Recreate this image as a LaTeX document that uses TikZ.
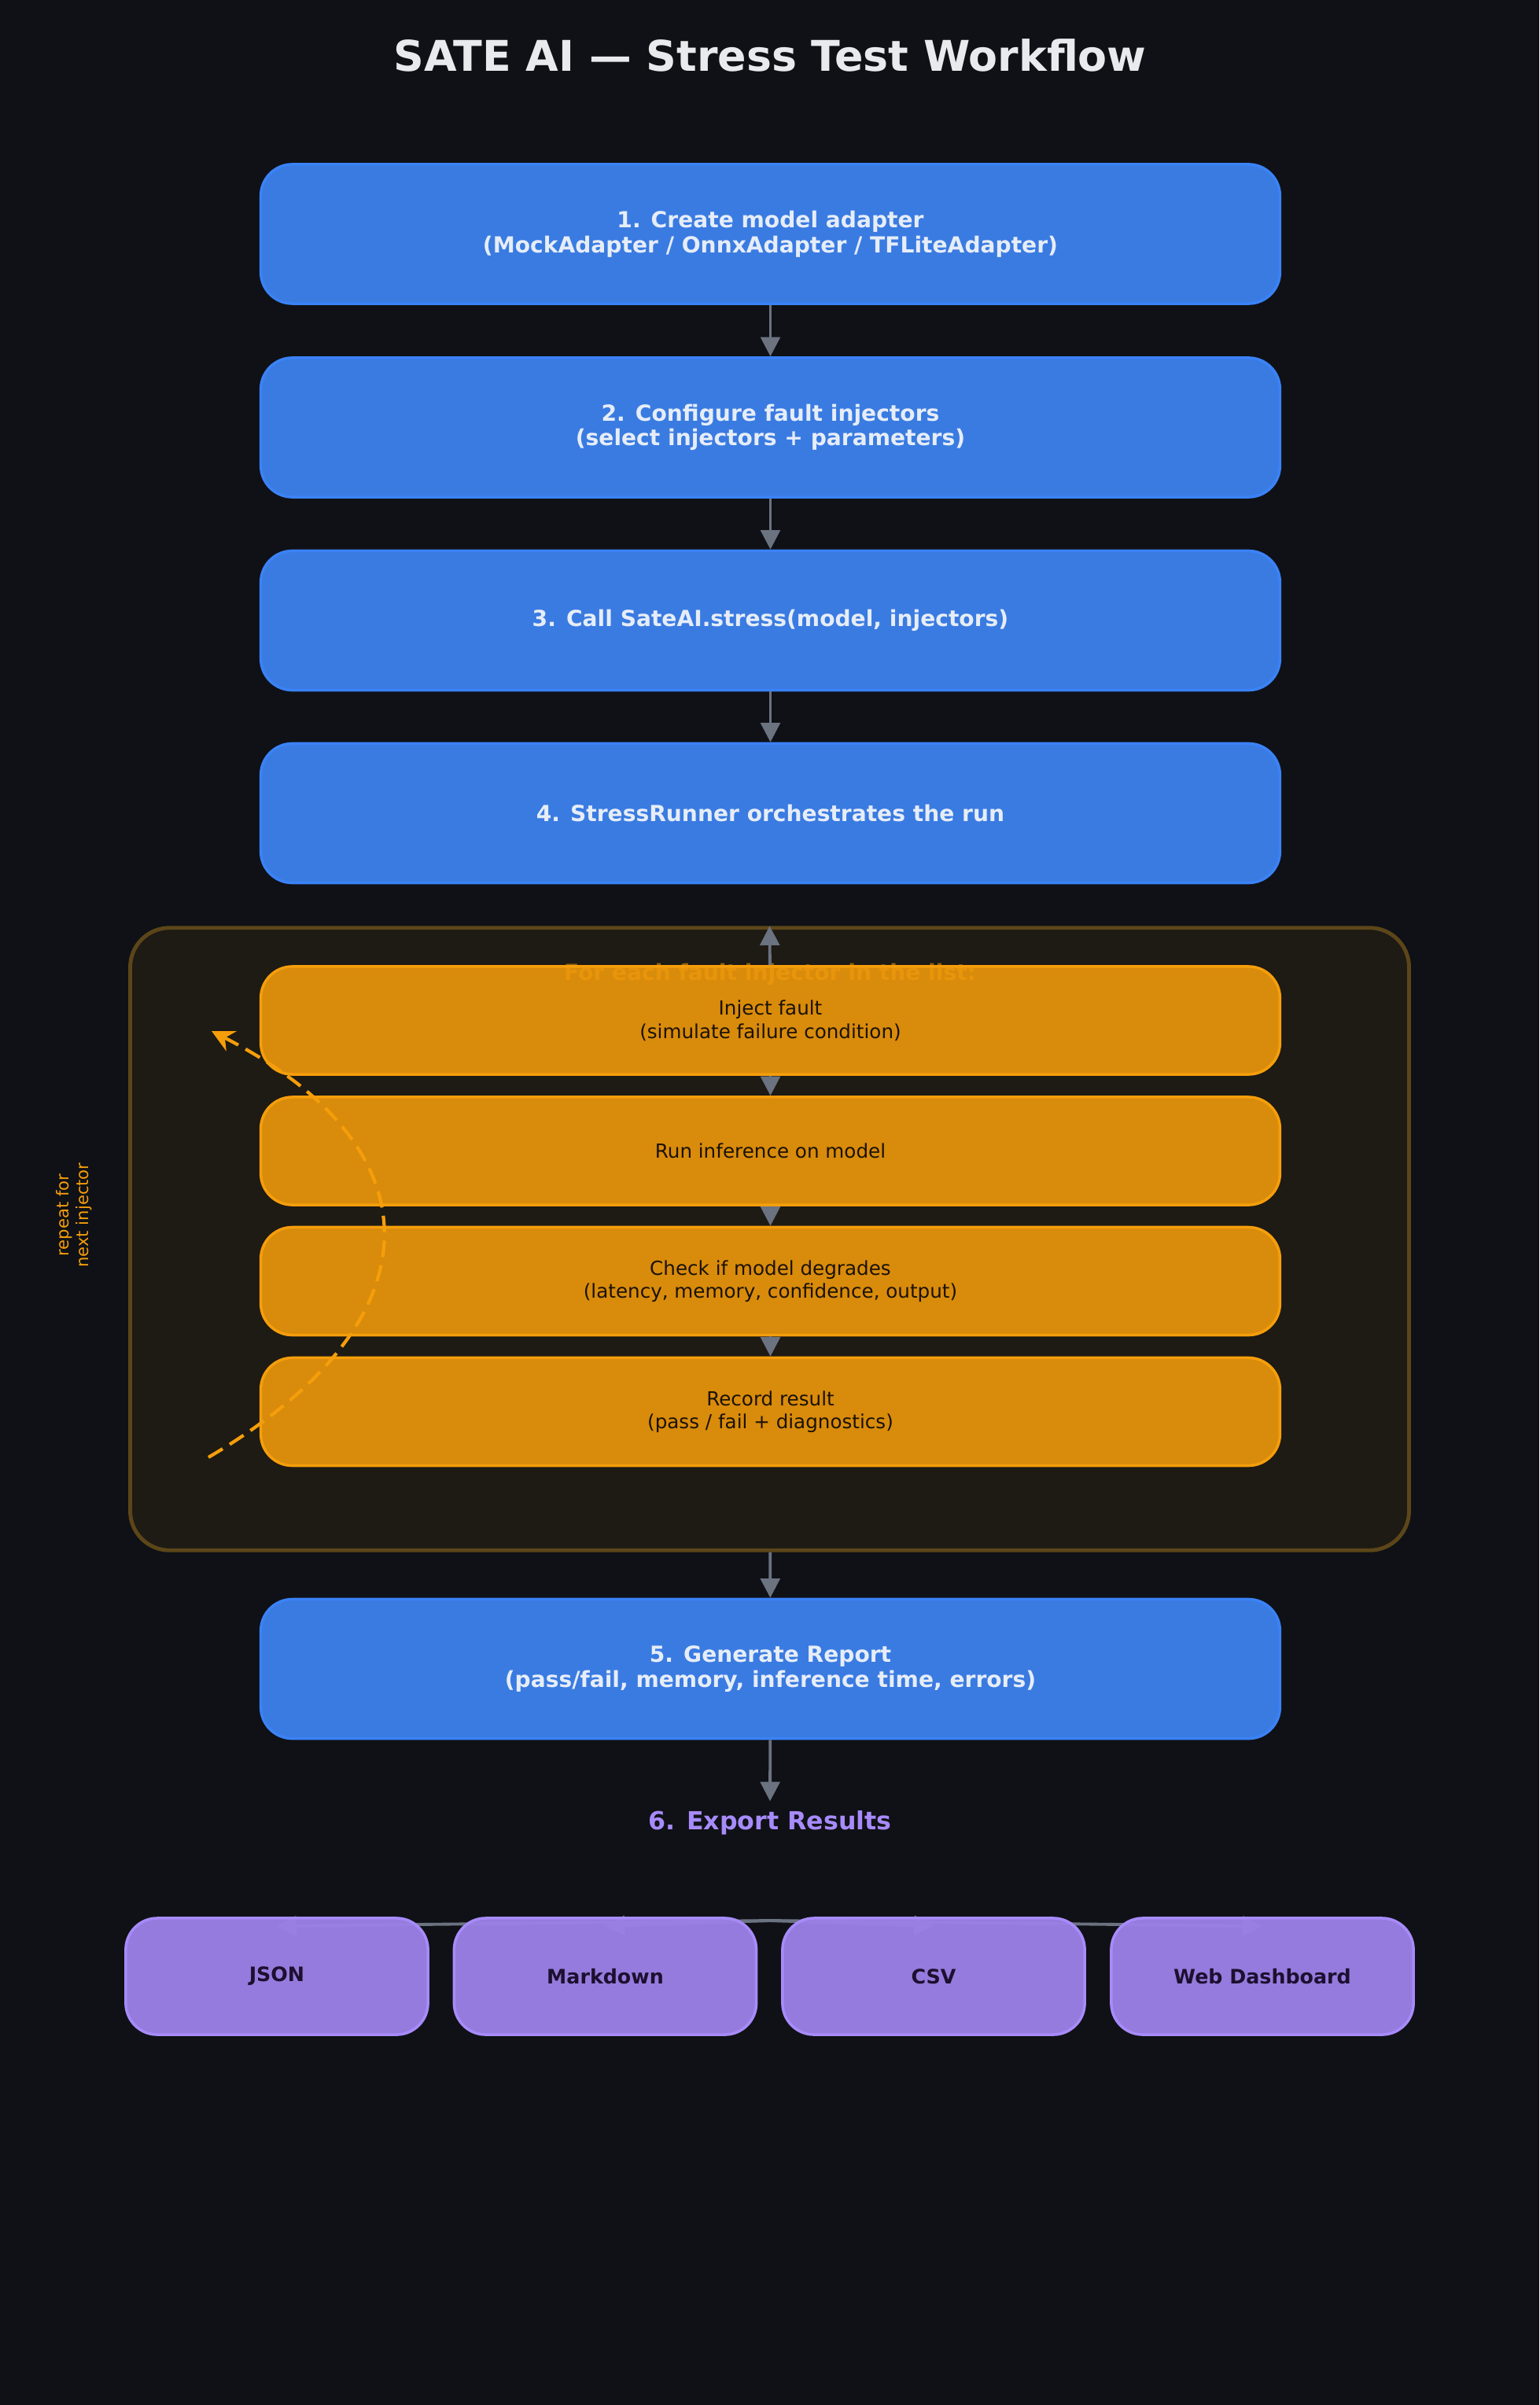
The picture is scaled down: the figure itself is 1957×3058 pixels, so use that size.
\documentclass[tikz,border=0pt]{standalone}
\usepackage{fontspec}
\setmainfont{DejaVu Sans}
\usetikzlibrary{arrows.meta}
\definecolor{bgdark}{HTML}{0F1116}
\definecolor{stepblue}{HTML}{3A7BE2}
\definecolor{stepblueline}{HTML}{3B82F6}
\definecolor{steptext}{HTML}{E6EDF7}
\definecolor{loopfill}{HTML}{1E1A14}
\definecolor{loopline}{HTML}{5C4619}
\definecolor{faultfill}{HTML}{D98B0B}
\definecolor{faultline}{HTML}{F59E0B}
\definecolor{faulttext}{HTML}{1A1205}
\definecolor{exportfill}{HTML}{9B80E6}
\definecolor{exportline}{HTML}{A78BFA}
\definecolor{exporttext}{HTML}{1C1030}
\definecolor{flowgray}{HTML}{6B7280}
\definecolor{titletext}{HTML}{E8EAED}
\tikzset{
  stepbox/.style={draw=stepblueline, line width=1pt, fill=stepblue, rounded corners=0.4cm,
    minimum width=12.95cm, minimum height=1.77cm, align=center, text=steptext,
    font=\bfseries\fontsize{8}{9}\selectfont},
  faultbox/.style={draw=faultline, line width=1pt, fill=faultfill, rounded corners=0.4cm,
    minimum width=12.95cm, minimum height=1.37cm, align=center, text=faulttext,
    font=\fontsize{7}{8.4}\selectfont},
  exportbox/.style={draw=exportline, line width=1pt, fill=exportfill, rounded corners=0.4cm,
    minimum width=3.84cm, minimum height=1.48cm, text=exporttext,
    font=\bfseries\fontsize{7.2}{9}\selectfont},
  flow/.style={draw=flowgray, line width=1.1pt, -{Triangle[width=7pt,length=7pt]}},
}
\begin{document}
\begin{tikzpicture}[x=0.01cm, y=-0.01cm]
    % background
    \fill [bgdark] (0, 0) rectangle (1957, 3058);
    \useasboundingbox (0, 0) rectangle (1957, 3058);
    %
    \node [text=titletext, font=\bfseries\fontsize{15.3}{18}\selectfont] (title) at (979, 70) {SATE AI — Stress Test Workflow};
    %
    \node [stepbox] (adapter) at (979.5, 297.5) {1. Create model adapter\\(MockAdapter / OnnxAdapter / TFLiteAdapter)};
    \node [stepbox] (config) at (979.5, 543.5) {2. Configure fault injectors\\(select injectors + parameters)};
    \node [stepbox] (call) at (979.5, 789) {3. Call SateAI.stress(model, injectors)};
    \node [stepbox] (runner) at (979.5, 1034) {4. StressRunner orchestrates the run};
    %
    \draw [flow] (adapter) -- (config);
    \draw [flow] (config) -- (call);
    \draw [flow] (call) -- (runner);
    %
    % loop over injectors
    \node [draw=loopline, line width=1.4pt, fill=loopfill, rounded corners=0.5cm,
      minimum width=16.25cm, minimum height=7.91cm] (loop) at (978.5, 1575.5) {};
    %
    \node [faultbox] (inject) at (979.5, 1297.5) {Inject fault\\(simulate failure condition)};
    \node [faultbox] (infer) at (979.5, 1463.5) {Run inference on model};
    \node [faultbox] (check) at (979.5, 1629) {Check if model degrades\\(latency, memory, confidence, output)};
    \node [faultbox] (record) at (979.5, 1795) {Record result\\(pass / fail + diagnostics)};
    \node [text=faultline, text opacity=0.55, font=\bfseries\fontsize{8}{10}\selectfont] (looptitle) at (979, 1239) {For each fault injector in the list:};
    %
    \draw [flow] (inject) -- (loop.north);
    \draw [flow] (inject) -- (infer);
    \draw [flow] (infer) -- (check);
    \draw [flow] (check) -- (record);
    %
    \coordinate (repeatfrom) at (265, 1853);
    \coordinate (repeatto) at (269, 1311);
    \draw [faultline, line width=1.2pt, dash pattern=on 6pt off 3pt, -{Stealth[width=8pt,length=8pt]}]
      (repeatfrom) .. controls (560, 1680) and (560, 1460) .. (repeatto);
    \node [text=faultline, rotate=90, align=center, font=\fontsize{6}{7.2}\selectfont] (repeat) at (94, 1545) {repeat for\\next injector};
    %
    \node [stepbox] (report) at (979.5, 2122) {5. Generate Report\\(pass/fail, memory, inference time, errors)};
    \draw [flow] (loop) -- (report);
    %
    \node [text=exportline, font=\bfseries\fontsize{9}{11}\selectfont] (results) at (979, 2318) {6. Export Results};
    \draw [flow] (report) -- (results);
    %
    % export targets
    \coordinate (fan) at (979, 2442);
    \draw [flow] (fan) -- (352, 2449);
    \draw [flow] (fan) -- (769.5, 2449);
    \draw [flow] (fan) -- (1187, 2449);
    \draw [flow] (fan) -- (1605, 2449);
    %
    \node [exportbox, fill opacity=0.96, text opacity=1] (json) at (352, 2513) {JSON};
    \node [exportbox, fill opacity=0.96, text opacity=1] (markdown) at (769.5, 2513) {Markdown};
    \node [exportbox, fill opacity=0.96, text opacity=1] (csv) at (1187, 2513) {CSV};
    \node [exportbox, fill opacity=0.96, text opacity=1] (dashboard) at (1605, 2513) {Web Dashboard};
  \end{tikzpicture}
\end{document}
